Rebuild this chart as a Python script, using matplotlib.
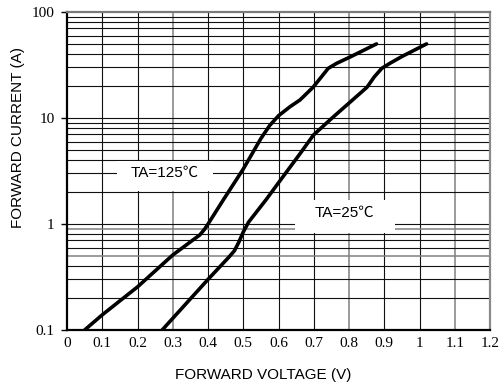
import matplotlib
matplotlib.use("Agg")
import matplotlib.pyplot as plt
from matplotlib.patches import Rectangle

# ---- data ----
v_125 = [0.05, 0.10, 0.20, 0.30, 0.377, 0.39, 0.401, 0.443, 0.50, 0.52, 0.55, 0.575,
         0.60, 0.633, 0.661, 0.698, 0.722, 0.741, 0.765, 0.803, 0.878]
i_125 = [0.10, 0.139, 0.255, 0.51, 0.79, 0.89, 1.01, 1.68, 3.3, 4.3, 6.4, 8.5,
         10.5, 12.8, 14.8, 19.5, 24.5, 29.4, 32.8, 37.6, 50.0]

v_25 = [0.27, 0.40, 0.46, 0.475, 0.488, 0.50, 0.515, 0.565, 0.60, 0.661, 0.699, 0.752,
        0.851, 0.872, 0.893, 0.916, 0.95, 1.02]
i_25 = [0.10, 0.30, 0.49, 0.56, 0.68, 0.84, 1.04, 1.7, 2.45, 4.6, 6.9, 10.0,
        19.5, 24.5, 29.4, 32.8, 38.0, 50.0]

x_ticks = [0, 0.1, 0.2, 0.3, 0.4, 0.5, 0.6, 0.7, 0.8, 0.9, 1.0, 1.1, 1.2]
x_tick_labels = ["0", "0.1", "0.2", "0.3", "0.4", "0.5", "0.6", "0.7", "0.8", "0.9", "1", "1.1", "1.2"]
y_ticks = [0.1, 1, 10, 100]
y_tick_labels = ["0.1", "1", "10", "100"]
label_125 = "TA=125℃"
label_25 = "TA=25℃"
x_label = "FORWARD VOLTAGE (V)"
y_label = "FORWARD CURRENT (A)"

W, H = 501, 387
fig = plt.figure(figsize=(W / 100, H / 100), dpi=100)
L, R, T, B = 67, 490, 12, 330
ax = fig.add_axes([L / W, 1 - B / H, (R - L) / W, (B - T) / H])
ax.set_yscale("log")
ax.set_xlim(0, 1.2)
ax.set_ylim(0.1, 100)

# grid lines
gray_x = {0.3, 0.8, 1.1}
for xv in x_ticks[1:-1]:
    g = any(abs(xv - gx) < 1e-9 for gx in gray_x)
    ax.axvline(xv, color="#808080" if g else "#111111", lw=1.1 if g else 0.8, zorder=1)
gray_y = {0.5, 0.9}
for dec in [0.1, 1, 10]:
    for m in range(1, 10):
        yv = dec * m
        if yv <= 0.1 + 1e-12:
            continue
        g = any(abs(yv - gy) < 1e-9 for gy in gray_y)
        ax.axhline(yv, color="#808080" if g else "#111111", lw=1.1 if g else 0.8, zorder=1)

# label boxes (white, interrupting the grid)
def box(x0, x1, ytop, ybot):
    ax.add_patch(Rectangle(((x0 - L) / (R - L), (B - ybot) / (B - T)),
                           (x1 - x0) / (R - L), (ybot - ytop) / (B - T),
                           transform=ax.transAxes, facecolor="white",
                           edgecolor="none", zorder=2))

box(117, 213, 161, 191)
box(295, 395, 200, 233)

for v, i in [(v_125, i_125), (v_25, i_25)]:
    ax.plot(v, i, color="black", lw=2.6, solid_joinstyle="round",
            solid_capstyle="round", zorder=3)

fam = ["Liberation Sans", "Noto Sans CJK TC"]
ax.text((165 - L) / (R - L), (B - 173) / (B - T), label_125, transform=ax.transAxes,
        ha="center", va="center", fontsize=11, family=fam, zorder=4)
ax.text((344 - L) / (R - L), (B - 213) / (B - T), label_25, transform=ax.transAxes,
        ha="center", va="center", fontsize=11, family=fam, zorder=4)

# ticks
ax.set_xticks(x_ticks)
ax.set_xticklabels(x_tick_labels, family="Liberation Serif", fontsize=11)
ax.set_yticks(y_ticks)
ax.set_yticklabels(y_tick_labels, family="Liberation Serif", fontsize=11)
ax.yaxis.set_minor_locator(matplotlib.ticker.NullLocator())
ax.tick_params(axis="x", length=0, pad=5.0)
ax.tick_params(axis="y", length=4, width=1, pad=5.0, direction="out")

# spines
for side, col in [("left", "black"), ("bottom", "black"), ("top", "#7a7a7a"), ("right", "#8a8a8a")]:
    ax.spines[side].set_color(col)
    ax.spines[side].set_linewidth(1.6)

ax.set_xlabel(x_label, family="Liberation Sans", fontsize=11)
ax.xaxis.set_label_coords((263 - L) / (R - L), (B - 368) / (B - T))
ax.set_ylabel(y_label, family="Liberation Sans", fontsize=11)
ax.yaxis.set_label_coords((25 - L) / (R - L), (B - 137) / (B - T))

fig.savefig("out.png", dpi=100)
